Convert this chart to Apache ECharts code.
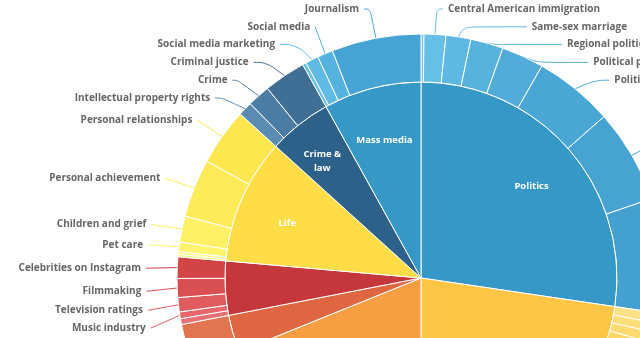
<!DOCTYPE html>
<html>
<head>
<meta charset="utf-8">
<script src="https://cdn.jsdelivr.net/npm/echarts@6/dist/echarts.min.js"></script>
<style>
  html, body { margin: 0; padding: 0; background: #fff; }
  #chart { width: 640px; height: 338px; }
</style>
</head>
<body>
<div id="chart"></div>
<script>
// Topics, listed clockwise from 12 o'clock (inner ring)
const topics = ['Politics', 'Business', 'Health', 'Sports', 'Arts & entertainment', 'Life', 'Crime & law', 'Mass media'];

// Subtopics of each topic, clockwise (outer ring); values are story counts
const politicsNames = ['Voting rights', 'Central American immigration', 'Same-sex marriage', 'Regional politics', 'Political parties', 'Political campaigns', 'Elections', 'Government'];
const politicsValues = [0.7, 5.2, 5.9, 7.8, 10.1, 18.9, 22.4, 27.4];

const businessNames = ['Real estate', 'Trade', 'Labor', 'Technology', 'Markets', 'Economy'];
const businessValues = [2.5, 2.3, 2.5, 14.3, 25, 35];

const healthNames = ['Nutrition', 'Mental health', 'Health care'];
const healthValues = [12, 22, 34];

const sportsNames = ['Olympics', 'Football'];
const sportsValues = [3, 8];

const artsNames = ['Theatre', 'Music industry', 'Television ratings', 'Filmmaking', 'Celebrities on Instagram'];
const artsValues = [1.4, 1.6, 3.4, 4.5, 5.1];

const lifeNames = ['Weddings', 'Obituaries', 'Pet care', 'Children and grief', 'Personal achievement', 'Personal relationships'];
const lifeValues = [0.6, 0.6, 2.3, 6.2, 13.9, 13.6];

const crimeNames = ['Intellectual property rights', 'Crime', 'Criminal justice'];
const crimeValues = [3.4, 5.4, 10.0];

const mediaNames = ['Podcasts', 'Social media marketing', 'Social media', 'Journalism'];
const mediaValues = [0.9, 3.1, 3.7, 21.3];

// Colours
const topicColors = ['#3598c7', '#fec443', '#f79d42', '#de6641', '#c5373a', '#fedd46', '#2d6189', '#3598c7'];
const politicsColors = ['#6cc3ea', '#65bfe7', '#5db9e3', '#57b2de', '#51acd9', '#4aa7d5', '#47a3d2', '#44a0d0'];
const businessColors = ['#ffe285', '#ffde7a', '#ffda70', '#fed463', '#fece58', '#fec94e'];
const healthColors = ['#fbb86a', '#f9ad5a', '#f8a54d'];
const sportsColors = ['#e8825f', '#e37450'];
const artsColors = ['#e87075', '#e5676b', '#e05b5e', '#da4f52', '#d34446'];
const lifeColors = ['#fff684', '#fff57a', '#fff46e', '#fff065', '#ffea59', '#fee64f'];
const crimeColors = ['#5b8db3', '#4b7ca3', '#406f96'];
const mediaColors = ['#69c2e9', '#5fbae4', '#55b2de', '#46a4d4'];

// Topics whose names are written inside the inner ring
const innerLabelled = ['Politics', 'Life', 'Crime & law', 'Mass media'];
// Topics whose subtopics sit below the visible area and get no outside labels
const quietTopics = ['Business', 'Health', 'Sports'];

const groups = [
  [politicsNames, politicsValues, politicsColors],
  [businessNames, businessValues, businessColors],
  [healthNames, healthValues, healthColors],
  [sportsNames, sportsValues, sportsColors],
  [artsNames, artsValues, artsColors],
  [lifeNames, lifeValues, lifeColors],
  [crimeNames, crimeValues, crimeColors],
  [mediaNames, mediaValues, mediaColors]
];

const sum = arr => arr.reduce((a, b) => a + b, 0);

// Geometry of the rings and of the outside labels
const CX = 421, CY = 278;
const R_IN = 196, R_OUT = 244;
const LINE_R = 276;          // where the radial part of a leader line ends
const LABEL_DROP = 2;        // labels sit slightly below their radial end
const TEXT_RA = 280;         // horizontal radius of the curve the label edges follow
const TEXT_RB = 273.5;       // vertical radius of that curve
const LEN2 = 6, GAP = 5;     // horizontal leader part, gap before text
const ROW = 17.8;            // vertical spacing of stacked labels
const TOP = 9, BOTTOM = 329; // allowed label centre range
const MIN_LABEL_ANGLE = 1.5; // degrees
const INNER_LABEL_DY = 4;
// The two-line topic name sits a little further round, towards the left
const INNER_LABEL_SHIFT = { 'Crime & law': [-8, -6] };
const FONT = 'Open Sans';

const innerData = topics.map((t, i) => ({
  name: t,
  value: sum(groups[i][1]),
  itemStyle: { color: topicColors[i] }
}));

const innerLabelData = topics.map((t, i) => {
  const item = {
    name: t,
    value: sum(groups[i][1]),
    label: { show: innerLabelled.indexOf(t) >= 0 }
  };
  if (t === 'Crime & law') item.label.formatter = 'Crime &\nlaw';
  return item;
});

const outerData = [];
const outerLabelled = [];
topics.forEach((t, i) => {
  const [names, values, colors] = groups[i];
  names.forEach((n, j) => {
    const item = { name: n, value: values[j], itemStyle: { color: colors[j] } };
    const quiet = quietTopics.indexOf(t) >= 0;
    if (quiet) {
      item.label = { show: false };
      item.labelLine = { show: false };
    }
    outerData.push(item);
    outerLabelled.push(!quiet);
  });
});

// Place the outside labels: stack them on each side, then set them on an elliptic curve
const placed = {};
(function layoutOuterLabels() {
  const total = sum(outerData.map(d => d.value));
  const sides = { left: [], right: [] };
  let acc = 0;
  outerData.forEach((d, idx) => {
    const a0 = acc / total * 360;
    acc += d.value;
    const a1 = acc / total * 360;
    if (!outerLabelled[idx] || a1 - a0 < MIN_LABEL_ANGLE) return;
    const mid = (a0 + a1) / 2 * Math.PI / 180;
    const s = Math.sin(mid), c = Math.cos(mid);
    const dir = s >= 0 ? 1 : -1;
    const entry = {
      idx, dir,
      p0: [CX + R_OUT * s, CY - R_OUT * c],
      p1: [CX + LINE_R * s, CY - LINE_R * c],
      y: CY - LINE_R * c + LABEL_DROP
    };
    (dir > 0 ? sides.right : sides.left).push(entry);
  });
  Object.keys(sides).forEach(k => {
    const list = sides[k].sort((a, b) => a.y - b.y);
    let prev = -Infinity;
    list.forEach(e => {
      e.y = Math.max(e.y, prev + ROW, TOP);
      prev = e.y;
    });
    for (let i = list.length - 1; i >= 0; i--) {
      const limit = i === list.length - 1 ? BOTTOM : list[i + 1].y - ROW;
      if (list[i].y > limit) list[i].y = limit;
    }
    list.forEach(e => {
      const dy = Math.abs(e.y - CY);
      let edge;
      if (dy < LINE_R - 10) {
        edge = CX + e.dir * TEXT_RA * Math.sqrt(Math.max(0, 1 - dy * dy / (TEXT_RB * TEXT_RB)));
      } else {
        edge = e.p1[0] + e.dir * (LEN2 + GAP);
      }
      const p2 = [edge - e.dir * GAP, e.y];
      let p1x = e.p1[0];
      if ((p2[0] - p1x) * e.dir < 0) p1x = p2[0];
      placed[e.idx] = {
        x: edge,
        y: e.y,
        align: e.dir > 0 ? 'left' : 'right',
        verticalAlign: 'middle',
        labelLinePoints: [e.p0, [p1x, e.y], p2]
      };
    });
  });
})();

const chart = echarts.init(document.getElementById('chart'), null, { renderer: 'canvas' });
chart.setOption({
  animation: false,
  backgroundColor: '#fff',
  series: [
    {
      name: 'topics',
      type: 'pie',
      center: [CX, CY],
      radius: [0, R_IN],
      startAngle: 90,
      clockwise: true,
      silent: true,
      data: innerData,
      label: { show: false },
      labelLine: { show: false },
      itemStyle: { borderColor: '#fff', borderWidth: 1 }
    },
    {
      name: 'topic names',
      type: 'pie',
      center: [CX, CY],
      radius: [90, R_IN],
      startAngle: 90,
      clockwise: true,
      silent: true,
      data: innerLabelData,
      itemStyle: { color: 'rgba(0,0,0,0)', borderWidth: 0 },
      label: {
        position: 'inside',
        color: '#fff',
        fontFamily: FONT,
        fontSize: 9.5,
        fontWeight: 'bold',
        lineHeight: 14
      },
      labelLine: { show: false },
      labelLayout: params => {
        const shift = INNER_LABEL_SHIFT[topics[params.dataIndex]] || [0, 0];
        return { dx: shift[0], dy: INNER_LABEL_DY + shift[1] };
      }
    },
    {
      name: 'subtopics',
      type: 'pie',
      center: [CX, CY],
      radius: [R_IN, R_OUT],
      startAngle: 90,
      clockwise: true,
      silent: true,
      minShowLabelAngle: MIN_LABEL_ANGLE,
      data: outerData,
      itemStyle: { borderColor: '#fff', borderWidth: 1 },
      label: {
        position: 'outside',
        color: '#666',
        fontFamily: FONT,
        fontSize: 10,
        fontWeight: 'bold',
        overflow: 'none'
      },
      labelLine: {
        length: 30,
        length2: LEN2,
        smooth: 0.4,
        lineStyle: { width: 1 }
      },
      labelLayout: params => placed[params.dataIndex] || {}
    }
  ]
});
</script>
</body>
</html>
